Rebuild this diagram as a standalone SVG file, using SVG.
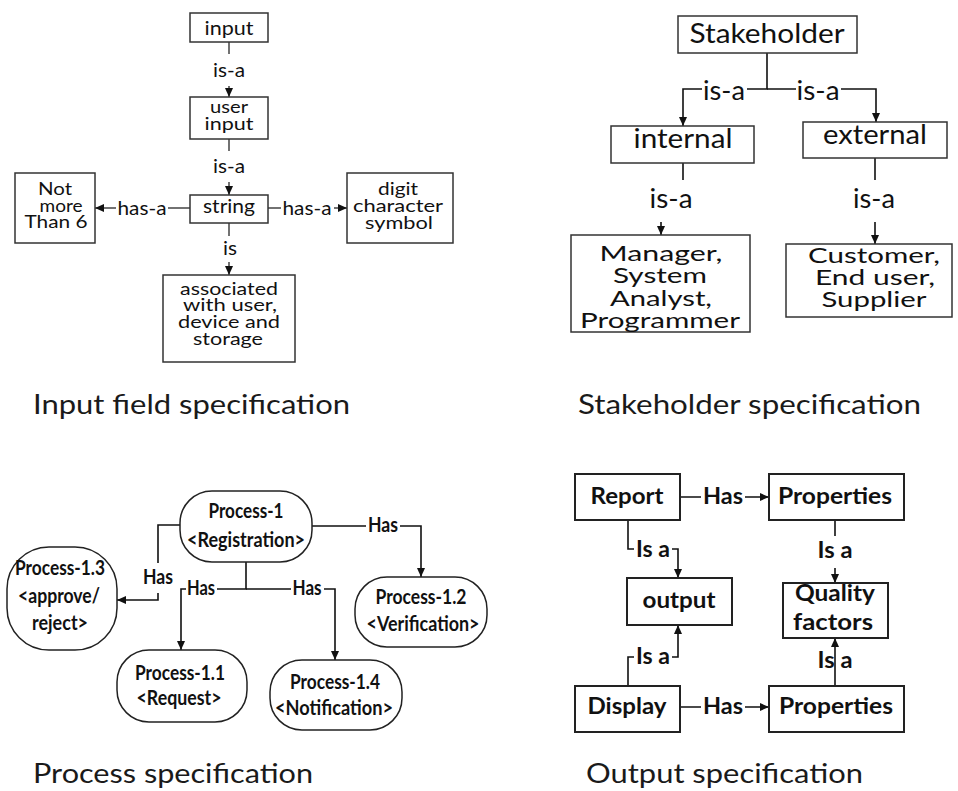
<svg xmlns="http://www.w3.org/2000/svg" width="958" height="791" viewBox="0 0 958 791">
  <defs>
    <marker id="arrow" markerUnits="userSpaceOnUse" markerWidth="10" markerHeight="10" refX="9" refY="4" orient="auto">
      <path d="M0,0 L9,4 L0,8 z" fill="#111"/>
    </marker>
    <style>
      .box { fill: #fff; stroke: #333; stroke-width: 1.5; }
      .boxb { fill: #fff; stroke: #222; stroke-width: 2; }
      .round { fill: #fff; stroke: #222; stroke-width: 1.5; }
      .wire { fill: none; stroke: #444; stroke-width: 1.5; marker-end: url(#arrow); }
      .wireb { fill: none; stroke: #111; stroke-width: 1.6; marker-end: url(#arrow); }
      text { font-family: Lato, "Open Sans", sans-serif; fill: #111; text-anchor: middle; }
      .t1 { font-size: 20px; }
      .m1 { font-size: 17px; }
      .t2 { font-size: 27px; }
      .m2 { font-size: 22px; }
      .t3 { font-size: 21px; font-weight: bold; }
      .m3 { font-size: 20px; font-weight: bold; }
      .t4 { font-size: 23px; font-weight: bold; }
      .title { font-size: 26px; text-anchor: start; fill: #1a1a1a; }
    </style>
  </defs>

  <!-- connectors -->
  <g id="connectors">
    <!-- input field specification -->
    <path class="wire" d="M229,42 V54 M229,86 V97"/>
    <path class="wire" d="M229,139 V151 M229,182 V195"/>
    <path class="wire" d="M229,223 V236 M229,262 V275"/>
    <path class="wire" d="M190,208 H168 M116,208 H95"/>
    <path class="wire" d="M268,208 H281 M334,208 H347"/>
    <!-- stakeholder specification -->
    <path class="wireb" d="M767,53 V89 H747 M702,89 H683 V126"/>
    <path class="wireb" d="M767,89 H796 M841,89 H876 V122"/>
    <path class="wireb" d="M683,163 V180 M661,222 V235"/>
    <path class="wireb" d="M875,158 V180 M875,222 V244"/>
    <!-- process specification -->
    <path class="wireb" d="M312,526 H366 M400,526 H421 V577"/>
    <path class="wireb" d="M180,525 H158 V563 M158,593 V600 H117"/>
    <path class="wireb" d="M246,562 V589 H217 M186,589 H181 V650"/>
    <path class="wireb" d="M246,589 H291 M324,589 H335 V660"/>
    <!-- output specification -->
    <path class="wireb" d="M680,497 H701 M745,497 H769"/>
    <path class="wireb" d="M628,520 V549 H634 M672,549 H678 V578"/>
    <path class="wireb" d="M835,520 V536 M835,568 V583"/>
    <path class="wireb" d="M628,686 V657 H634 M672,657 H678 V625"/>
    <path class="wireb" d="M680,707 H701 M745,707 H769"/>
    <path class="wireb" d="M835,686 V638"/>
  </g>

  <!-- connector labels -->
  <g id="labels">
    <text class="t1" x="229" y="77" textLength="32" lengthAdjust="spacingAndGlyphs">is-a</text>
    <text class="t1" x="229" y="173" textLength="32" lengthAdjust="spacingAndGlyphs">is-a</text>
    <text class="t1" x="230" y="255" textLength="14" lengthAdjust="spacingAndGlyphs">is</text>
    <text class="t1" x="142" y="215" textLength="49" lengthAdjust="spacingAndGlyphs">has-a</text>
    <text class="t1" x="307" y="215" textLength="49" lengthAdjust="spacingAndGlyphs">has-a</text>

    <text class="t2" x="724" y="100" textLength="42" lengthAdjust="spacingAndGlyphs">is-a</text>
    <text class="t2" x="818" y="100" textLength="43" lengthAdjust="spacingAndGlyphs">is-a</text>
    <text class="t2" x="671" y="208" textLength="43" lengthAdjust="spacingAndGlyphs">is-a</text>
    <text class="t2" x="874" y="208" textLength="42" lengthAdjust="spacingAndGlyphs">is-a</text>

    <text class="t3" x="383" y="532" textLength="30" lengthAdjust="spacingAndGlyphs">Has</text>
    <text class="t3" x="158" y="584" textLength="30" lengthAdjust="spacingAndGlyphs">Has</text>
    <text class="t3" x="201" y="595" textLength="28" lengthAdjust="spacingAndGlyphs">Has</text>
    <text class="t3" x="307" y="595" textLength="29" lengthAdjust="spacingAndGlyphs">Has</text>

    <text class="t4" x="723" y="504" textLength="40" lengthAdjust="spacingAndGlyphs">Has</text>
    <text class="t4" x="653" y="557" textLength="34" lengthAdjust="spacingAndGlyphs">Is a</text>
    <text class="t4" x="835" y="558" textLength="35" lengthAdjust="spacingAndGlyphs">Is a</text>
    <text class="t4" x="653" y="664" textLength="34" lengthAdjust="spacingAndGlyphs">Is a</text>
    <text class="t4" x="835" y="668" textLength="35" lengthAdjust="spacingAndGlyphs">Is a</text>
    <text class="t4" x="723" y="714" textLength="40" lengthAdjust="spacingAndGlyphs">Has</text>
  </g>

  <!-- input field specification nodes -->
  <g id="input">
    <rect class="box" x="190" y="13" width="78" height="29"/>
    <text class="t1" x="229" y="35" textLength="49" lengthAdjust="spacingAndGlyphs">input</text>
  </g>
  <g id="user-input">
    <rect class="box" x="190" y="97" width="78" height="42"/>
    <text class="m1" x="229" y="113" textLength="38" lengthAdjust="spacingAndGlyphs">user</text>
    <text class="m1" x="229" y="130" textLength="49" lengthAdjust="spacingAndGlyphs">input</text>
  </g>
  <g id="string">
    <rect class="box" x="190" y="195" width="78" height="28"/>
    <text class="t1" x="229" y="213" textLength="52" lengthAdjust="spacingAndGlyphs">string</text>
  </g>
  <g id="not-more-than-6">
    <rect class="box" x="15" y="173" width="80" height="70"/>
    <text class="m1" x="55" y="195" textLength="34" lengthAdjust="spacingAndGlyphs">Not</text>
    <text class="m1" x="61" y="212" textLength="43" lengthAdjust="spacingAndGlyphs">more</text>
    <text class="m1" x="56" y="228" textLength="63" lengthAdjust="spacingAndGlyphs">Than 6</text>
  </g>
  <g id="digit-character-symbol">
    <rect class="box" x="347" y="173" width="106" height="70"/>
    <text class="m1" x="398" y="195" textLength="40" lengthAdjust="spacingAndGlyphs">digit</text>
    <text class="m1" x="398" y="212" textLength="90" lengthAdjust="spacingAndGlyphs">character</text>
    <text class="m1" x="399" y="229" textLength="68" lengthAdjust="spacingAndGlyphs">symbol</text>
  </g>
  <g id="associated">
    <rect class="box" x="163" y="275" width="132" height="87"/>
    <text class="m1" x="229" y="295" textLength="98" lengthAdjust="spacingAndGlyphs">associated</text>
    <text class="m1" x="230" y="311" textLength="94" lengthAdjust="spacingAndGlyphs">with user,</text>
    <text class="m1" x="229" y="328" textLength="102" lengthAdjust="spacingAndGlyphs">device and</text>
    <text class="m1" x="228" y="345" textLength="70" lengthAdjust="spacingAndGlyphs">storage</text>
  </g>

  <!-- stakeholder specification nodes -->
  <g id="stakeholder">
    <rect class="box" x="678" y="16" width="179" height="37"/>
    <text class="t2" x="767" y="43" textLength="155" lengthAdjust="spacingAndGlyphs">Stakeholder</text>
  </g>
  <g id="internal">
    <rect class="box" x="611" y="126" width="143" height="37"/>
    <text class="t2" x="683" y="148" textLength="99" lengthAdjust="spacingAndGlyphs">internal</text>
  </g>
  <g id="external">
    <rect class="box" x="803" y="122" width="144" height="36"/>
    <text class="t2" x="875" y="144" textLength="104" lengthAdjust="spacingAndGlyphs">external</text>
  </g>
  <g id="internal-roles">
    <rect class="box" x="571" y="235" width="179" height="97"/>
    <text class="m2" x="661" y="261" textLength="123" lengthAdjust="spacingAndGlyphs">Manager,</text>
    <text class="m2" x="660" y="283" textLength="94" lengthAdjust="spacingAndGlyphs">System</text>
    <text class="m2" x="661" y="306" textLength="102" lengthAdjust="spacingAndGlyphs">Analyst,</text>
    <text class="m2" x="660" y="328" textLength="160" lengthAdjust="spacingAndGlyphs">Programmer</text>
  </g>
  <g id="external-roles">
    <rect class="box" x="786" y="244" width="166" height="73"/>
    <text class="m2" x="874" y="263" textLength="132" lengthAdjust="spacingAndGlyphs">Customer,</text>
    <text class="m2" x="875" y="285" textLength="120" lengthAdjust="spacingAndGlyphs">End user,</text>
    <text class="m2" x="874" y="307" textLength="105" lengthAdjust="spacingAndGlyphs">Supplier</text>
  </g>

  <!-- process specification nodes -->
  <g id="process-1">
    <rect class="round" x="180" y="491" width="132" height="71" rx="32" ry="32"/>
    <text class="m3" x="246" y="518" textLength="75" lengthAdjust="spacingAndGlyphs">Process-1</text>
    <text class="m3" x="246" y="547" textLength="118" lengthAdjust="spacingAndGlyphs">&lt;Registration&gt;</text>
  </g>
  <g id="process-1-2">
    <rect class="round" x="355" y="577" width="132" height="70" rx="32" ry="32"/>
    <text class="m3" x="421" y="604" textLength="91" lengthAdjust="spacingAndGlyphs">Process-1.2</text>
    <text class="m3" x="423" y="631" textLength="113" lengthAdjust="spacingAndGlyphs">&lt;Verification&gt;</text>
  </g>
  <g id="process-1-3">
    <rect class="round" x="7" y="547" width="110" height="103" rx="42" ry="42"/>
    <text class="m3" x="60" y="575" textLength="90" lengthAdjust="spacingAndGlyphs">Process-1.3</text>
    <text class="m3" x="59" y="603" textLength="82" lengthAdjust="spacingAndGlyphs">&lt;approve/</text>
    <text class="m3" x="60" y="630" textLength="56" lengthAdjust="spacingAndGlyphs">reject&gt;</text>
  </g>
  <g id="process-1-1">
    <rect class="round" x="117" y="650" width="130" height="72" rx="32" ry="32"/>
    <text class="m3" x="180" y="680" textLength="90" lengthAdjust="spacingAndGlyphs">Process-1.1</text>
    <text class="m3" x="179" y="705" textLength="85" lengthAdjust="spacingAndGlyphs">&lt;Request&gt;</text>
  </g>
  <g id="process-1-4">
    <rect class="round" x="270" y="660" width="132" height="70" rx="32" ry="32"/>
    <text class="m3" x="335" y="689" textLength="90" lengthAdjust="spacingAndGlyphs">Process-1.4</text>
    <text class="m3" x="334" y="715" textLength="118" lengthAdjust="spacingAndGlyphs">&lt;Notification&gt;</text>
  </g>

  <!-- output specification nodes -->
  <g id="report">
    <rect class="boxb" x="575" y="474" width="105" height="46"/>
    <text class="t4" x="627" y="504" textLength="73" lengthAdjust="spacingAndGlyphs">Report</text>
  </g>
  <g id="report-properties">
    <rect class="boxb" x="769" y="474" width="135" height="46"/>
    <text class="t4" x="835" y="504" textLength="114" lengthAdjust="spacingAndGlyphs">Properties</text>
  </g>
  <g id="output">
    <rect class="boxb" x="627" y="578" width="105" height="47"/>
    <text class="t4" x="679" y="608" textLength="73" lengthAdjust="spacingAndGlyphs">output</text>
  </g>
  <g id="quality-factors">
    <rect class="boxb" x="783" y="583" width="105" height="55"/>
    <text class="t4" x="835" y="601" textLength="80" lengthAdjust="spacingAndGlyphs">Quality</text>
    <text class="t4" x="833" y="630" textLength="80" lengthAdjust="spacingAndGlyphs">factors</text>
  </g>
  <g id="display">
    <rect class="boxb" x="575" y="686" width="105" height="46"/>
    <text class="t4" x="627" y="714" textLength="79" lengthAdjust="spacingAndGlyphs">Display</text>
  </g>
  <g id="display-properties">
    <rect class="boxb" x="769" y="686" width="135" height="46"/>
    <text class="t4" x="836" y="714" textLength="114" lengthAdjust="spacingAndGlyphs">Properties</text>
  </g>

  <!-- captions -->
  <g id="captions">
    <text class="title" x="33" y="414" textLength="317" lengthAdjust="spacingAndGlyphs">Input field specification</text>
    <text class="title" x="578" y="414" textLength="343" lengthAdjust="spacingAndGlyphs">Stakeholder specification</text>
    <text class="title" x="33" y="783" textLength="280" lengthAdjust="spacingAndGlyphs">Process specification</text>
    <text class="title" x="586" y="783" textLength="277" lengthAdjust="spacingAndGlyphs">Output specification</text>
  </g>
</svg>
